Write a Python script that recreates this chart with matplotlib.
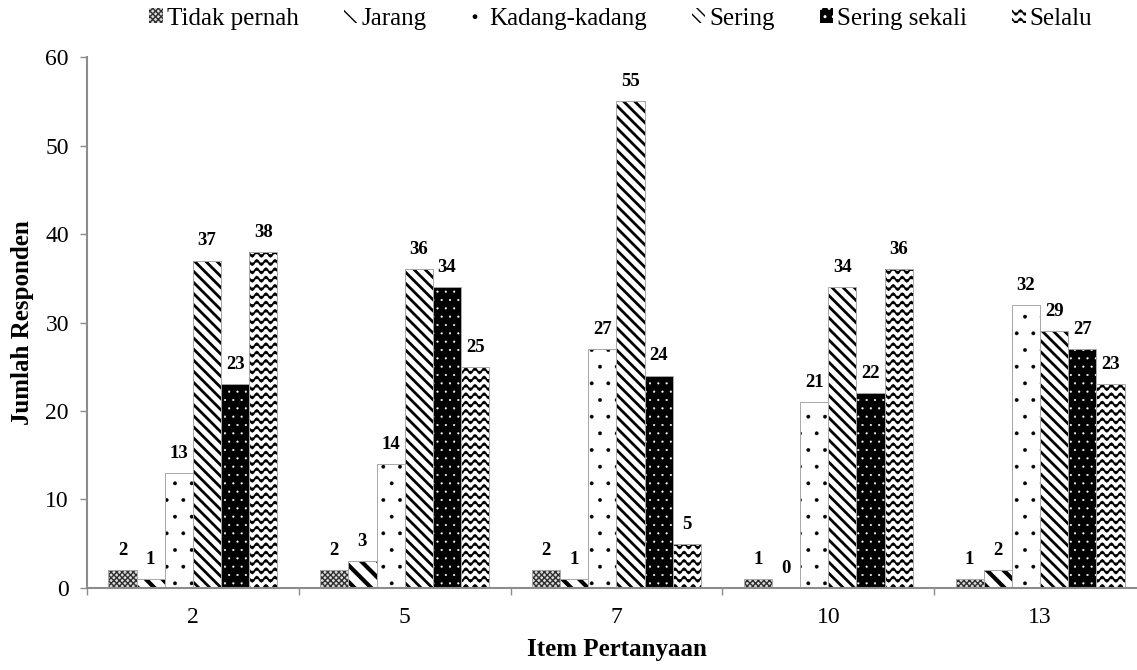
import warnings
import numpy as np
import matplotlib
matplotlib.use("Agg")
import matplotlib.pyplot as plt
import matplotlib.hatch as mhatch
from matplotlib.path import Path

warnings.filterwarnings("ignore")

# ---- data -------------------------------------------------------------
items = ["2", "5", "7", "10", "13"]
series_names = ["Tidak pernah", "Jarang", "Kadang-kadang", "Sering",
                "Sering sekali", "Selalu"]
tidak_pernah = [2, 2, 2, 1, 1]
jarang = [1, 3, 1, 0, 2]
kadang = [13, 14, 27, 21, 32]
sering = [37, 36, 55, 34, 29]
sering_sekali = [23, 34, 24, 22, 27]
selalu = [38, 25, 5, 36, 23]
y_ticks = [0, 10, 20, 30, 40, 50, 60]


# ---- wavy hatch ('~') --------------------------------------------------
class WaveHatch(mhatch.HatchPatternBase):
    n_pts = 89

    def __init__(self, hatch, density):
        self.num_lines = int(hatch.count("~") * density)
        self.num_vertices = self.num_lines * self.n_pts

    def set_vertices_and_codes(self, vertices, codes):
        steps, step = np.linspace(0.0, 1.0, self.num_lines, False, retstep=True)
        steps += step / 2.0
        xs = np.linspace(0.0, 1.0, self.n_pts)
        amp = step * 0.3
        for i, y0 in enumerate(steps):
            sl = slice(i * self.n_pts, (i + 1) * self.n_pts)
            vertices[sl, 0] = xs
            vertices[sl, 1] = y0 + amp * np.sin(xs * 2 * np.pi * 11)
            codes[sl] = Path.LINETO
            codes[i * self.n_pts] = Path.MOVETO


if WaveHatch not in mhatch._hatch_types:
    mhatch._hatch_types.append(WaveHatch)

plt.rcParams["font.family"] = ["Liberation Serif", "DejaVu Serif"]

# facecolor, hatch colour, hatch pattern, hatch line width
styles = [
    dict(facecolor="#dcdcdc", edgecolor="#303030", hatch="xxxxxx", hlw=1.0),
    dict(facecolor="white", edgecolor="black", hatch="\\\\", hlw=3.0),
    dict(facecolor="white", edgecolor="black", hatch=".", hlw=0.3),
    dict(facecolor="white", edgecolor="black", hatch="\\\\\\", hlw=2.0),
    dict(facecolor="black", edgecolor="white", hatch="..", hlw=0.3),
    dict(facecolor="white", edgecolor="black", hatch="~~", hlw=1.3),
]
all_series = [tidak_pernah, jarang, kadang, sering, sering_sekali, selalu]

fig = plt.figure(figsize=(11.37, 6.70), dpi=100)
ax = fig.add_axes([0.0765, 0.1224, 0.9314, 0.7925])

x = np.arange(len(items))
n = len(all_series)
width = 0.133
handles = []
for k, (vals, st, name) in enumerate(zip(all_series, styles, series_names)):
    pos = x + (k - (n - 1) / 2) * width
    plt.rcParams["hatch.linewidth"] = st["hlw"]
    bars = ax.bar(pos, vals, width, linewidth=0, label=name,
                  facecolor=st["facecolor"], edgecolor=st["edgecolor"],
                  hatch=st["hatch"])
    for b in bars:
        if hasattr(b, "set_hatch_linewidth"):
            b.set_hatch_linewidth(st["hlw"])
    # thin grey outline round each bar
    ax.bar(pos, vals, width, fill=False, edgecolor="#a8a8a8", linewidth=0.7)
    handles.append(bars)
    for px, v in zip(pos, vals):
        ax.annotate(str(v), (px, v), xytext=(0, 8), textcoords="offset points",
                    ha="center", va="bottom", fontsize=13.5, fontweight="bold")

ax.set_xlim(-0.5, len(items) - 0.5)
ax.set_ylim(0, 60)
ax.set_yticks(y_ticks)
ax.set_xticks(x)
ax.set_xticklabels(items)
ax.set_xticks(np.arange(-0.5, len(items)), minor=True)
ax.tick_params(axis="x", which="major", length=0, pad=14, labelsize=17)
ax.tick_params(axis="x", which="minor", length=5, color="#8c8c8c", width=1)
ax.tick_params(axis="y", length=5, color="#8c8c8c", width=1, labelsize=17, pad=8)

for side in ("top", "right"):
    ax.spines[side].set_visible(False)
for side in ("left", "bottom"):
    ax.spines[side].set_color("#8c8c8c")
    ax.spines[side].set_linewidth(1.5)

ax.set_ylabel("Jumlah Responden", fontsize=18, fontweight="bold", labelpad=8)
ax.set_xlabel("Item Pertanyaan", fontsize=18, fontweight="bold", labelpad=7)

plt.rcParams["hatch.linewidth"] = 1.0
fig.legend(handles=handles, labels=series_names, loc="center",
           bbox_to_anchor=(0.546, 0.972), ncol=6, frameon=False, fontsize=18,
           handlelength=0.55, handleheight=0.55, handletextpad=0.15,
           columnspacing=1.8)

fig.savefig("out.png", dpi=100)
